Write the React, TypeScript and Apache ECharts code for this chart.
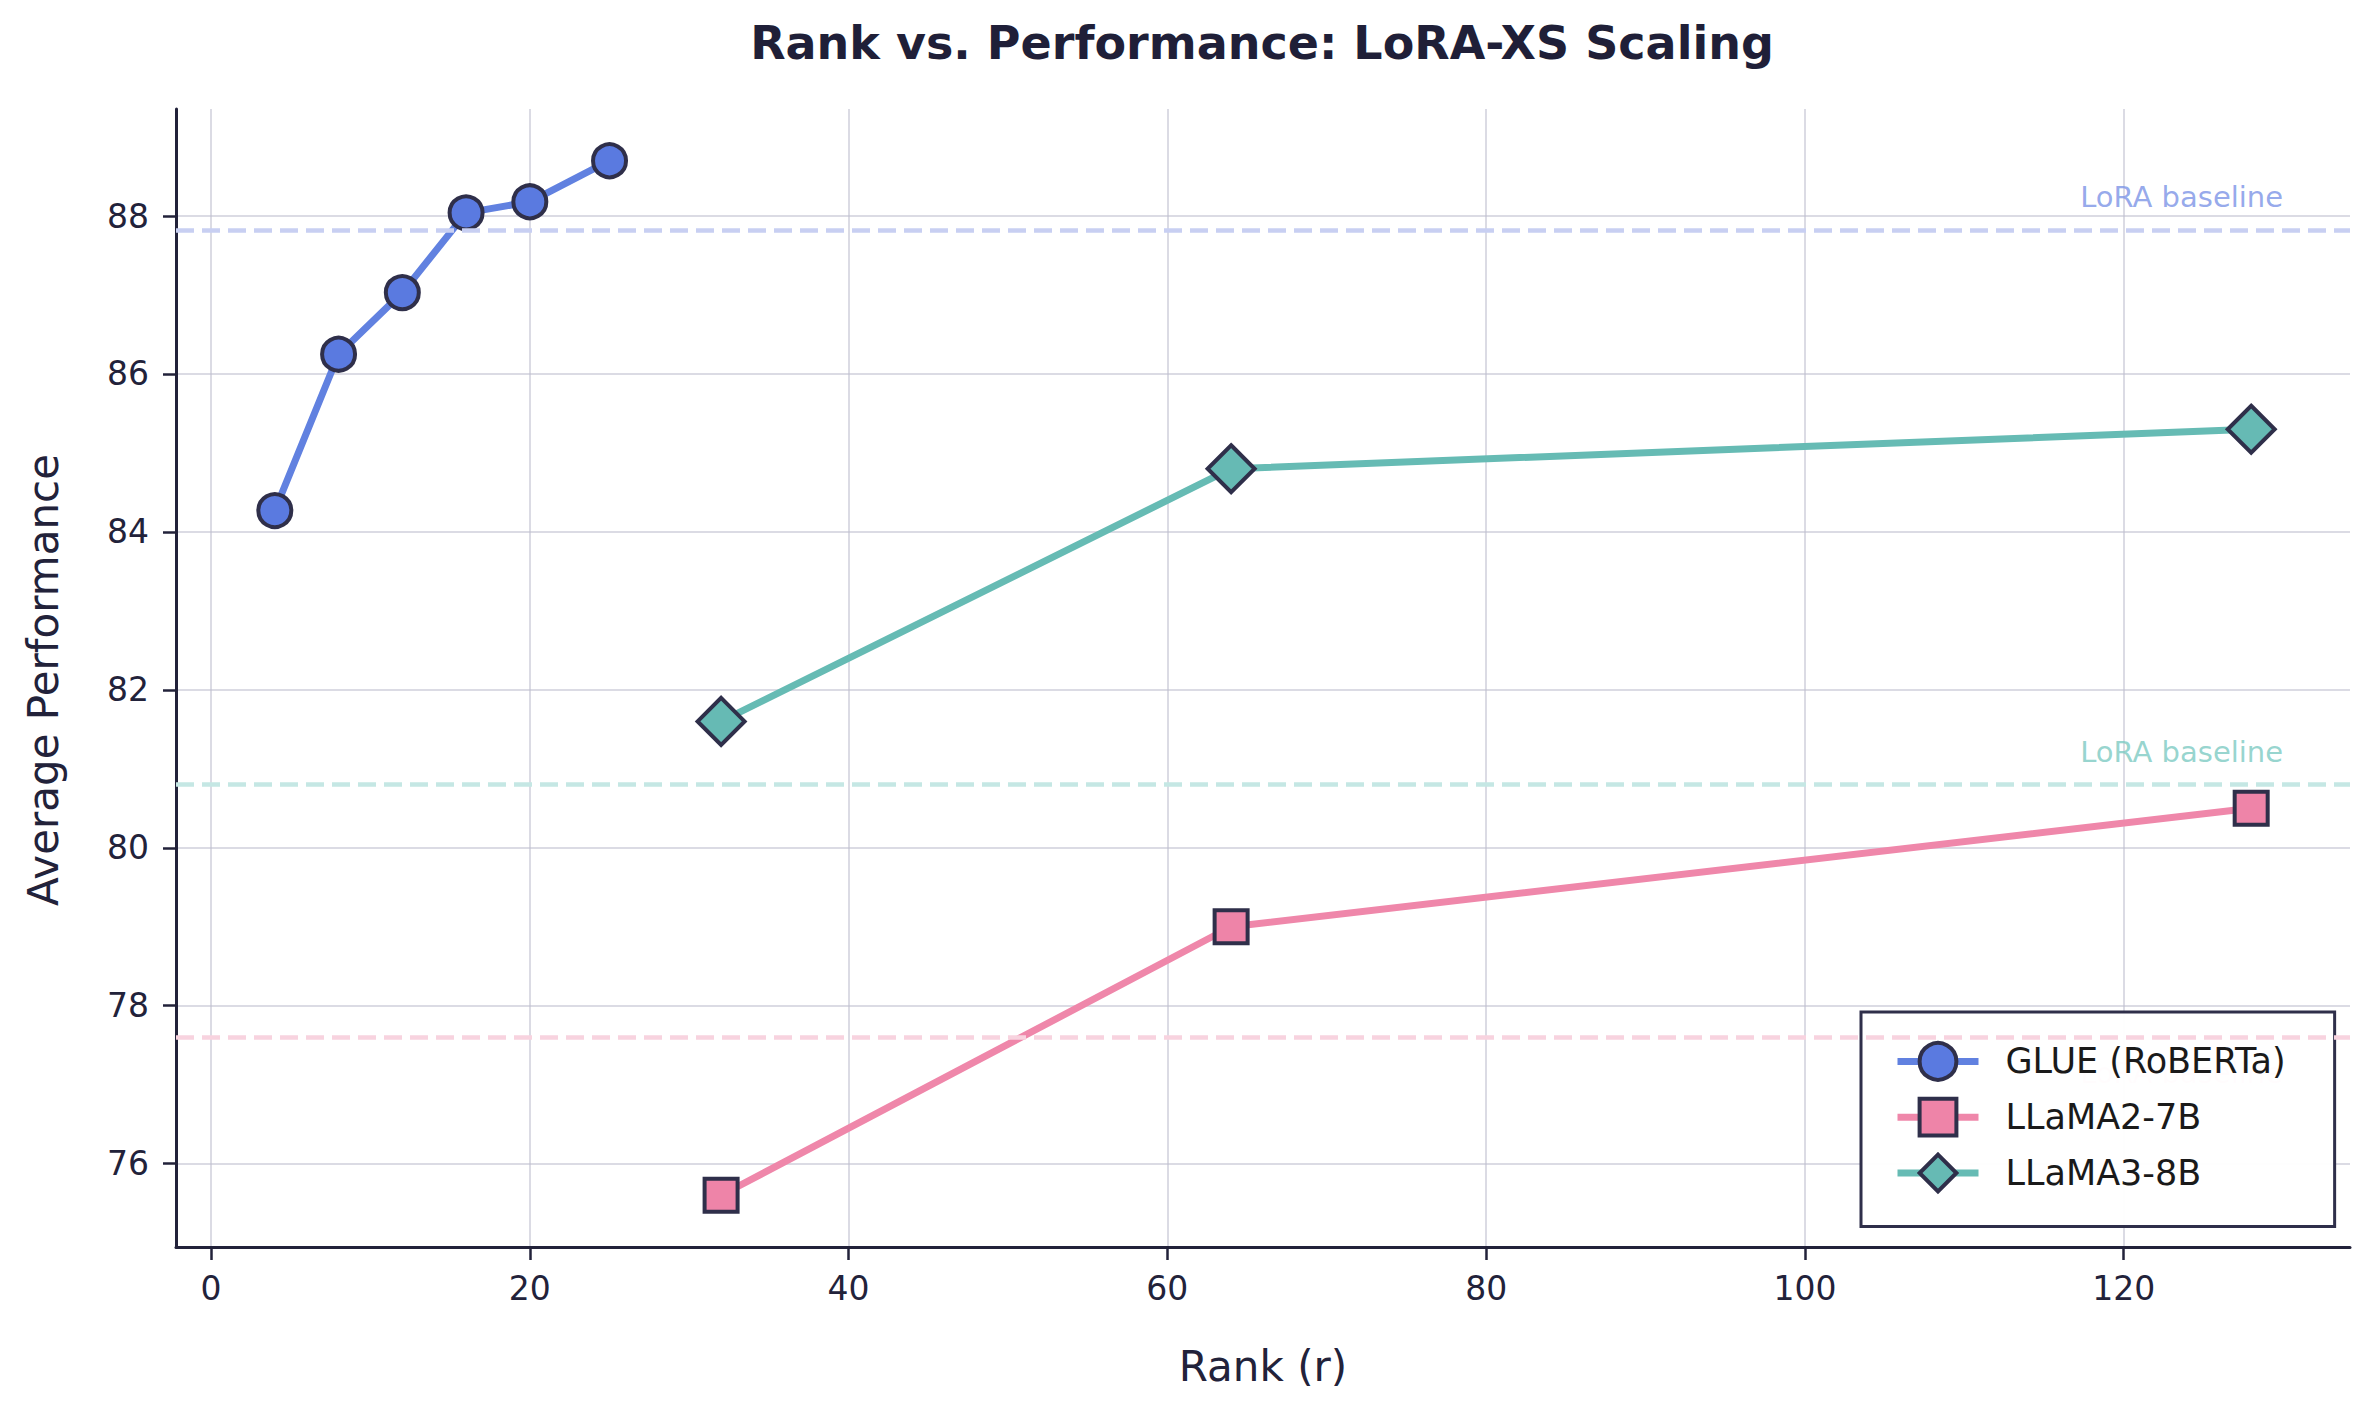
import React, { useEffect, useRef } from "react";
import * as echarts from "echarts";

// ---- data ----
const glueRanks = [4, 8, 12, 16, 20, 25];
const glueScores = [84.27, 86.25, 87.03, 88.04, 88.18, 88.7];
const llamaRanks = [32, 64, 128];
const llama2Scores = [75.6, 79.0, 80.5];
const llama3Scores = [81.6, 84.8, 85.3];
const seriesNames = ["GLUE (RoBERTa)", "LLaMA2-7B", "LLaMA3-8B"];
const baselineValues = [87.82, 77.6, 80.8];
const baselineLabelX = 130;
const xTicks = [0, 20, 40, 60, 80, 100, 120];
const yTicks = [76, 78, 80, 82, 84, 86, 88];

const FONT = "DejaVu Sans";
const TEXT = "#22223a";
const EDGE = "#2f2f4a";
const lineColors = ["#6181e0", "#ef87aa", "#66bbb4"];
const fillColors = ["#5a7ae0", "#ee84a8", "#66bab4"];
const baseColors = ["#c8cff2", "#f8d3df", "#c5e7e4"];
const baseTextColors = ["#7b93e6", "#f2a6c0", "#7ccac2"];
const labelPositions = ["top", "bottom", "top"];
const labelDistances = [18, 21, 18];
const symbols = ["circle", "rect", "diamond"];
const symbolSizes: any[] = [33, 33, [47, 47]];

export default function App() {
  const ref = useRef<HTMLDivElement>(null);
  useEffect(() => {
    document.body.style.margin = "0";
    document.body.style.overflow = "hidden";
    const chart = echarts.init(ref.current!, null, { renderer: "svg" });
    const dataSets = [
      glueRanks.map((r, i) => [r, glueScores[i]]),
      llamaRanks.map((r, i) => [r, llama2Scores[i]]),
      llamaRanks.map((r, i) => [r, llama3Scores[i]]),
    ];
    const baselineSeries = baselineValues.map((v, i) => ({
      type: "scatter",
      name: "baseline-" + i,
      z: 1,
      silent: true,
      symbolSize: 1,
      itemStyle: { color: "rgba(0,0,0,0)" },
      data: [[baselineLabelX, v]],
      label: {
        show: true,
        position: labelPositions[i],
        align: "right",
        distance: labelDistances[i],
        formatter: "LoRA baseline",
        color: baseTextColors[i],
        fontSize: 29,
        fontFamily: FONT,
      },
      markLine: {
        silent: true,
        symbol: "none",
        label: { show: false },
        lineStyle: { color: baseColors[i], type: [18, 8], width: 4.5 },
        data: [{ yAxis: v }],
      },
    }));
    const mainSeries = dataSets.map((d, i) => ({
      type: "line",
      name: seriesNames[i],
      z: 3,
      data: d,
      symbol: symbols[i],
      symbolSize: symbolSizes[i],
      showAllSymbol: true,
      lineStyle: { color: lineColors[i], width: 7 },
      itemStyle: { color: fillColors[i], borderColor: EDGE, borderWidth: 4 },
    }));
    chart.setOption({
      animation: false,
      textStyle: { fontFamily: FONT },
      grid: { left: 176, right: 14, top: 109, bottom: 155, containLabel: false },
      xAxis: {
        type: "value",
        min: -2.2,
        max: 134.2,
        axisLine: { show: true, onZero: false, lineStyle: { color: TEXT, width: 3 } },
        axisTick: { show: true, length: 13, customValues: xTicks, lineStyle: { color: TEXT, width: 2.5 } },
        axisLabel: { customValues: xTicks, fontSize: 33, color: TEXT, margin: 25, fontFamily: FONT },
        splitLine: { show: true, lineStyle: { color: "rgba(190,190,205,0.55)", width: 2 } },
      },
      yAxis: {
        type: "value",
        min: 74.945,
        max: 89.355,
        axisLine: { show: true, onZero: false, lineStyle: { color: TEXT, width: 3 } },
        axisTick: { show: true, length: 13, customValues: yTicks, lineStyle: { color: TEXT, width: 2.5 } },
        axisLabel: { customValues: yTicks, fontSize: 33, color: TEXT, margin: 27, fontFamily: FONT },
        splitLine: { show: true, lineStyle: { color: "rgba(190,190,205,0.55)", width: 2 } },
      },
      legend: {
        data: seriesNames,
        orient: "vertical",
        left: 1861,
        top: 1012,
        itemWidth: 81,
        itemHeight: 46,
        itemGap: 15,
        padding: [29, 49, 33, 33],
        backgroundColor: "rgba(255,255,255,0.96)",
        borderColor: EDGE,
        borderWidth: 3,
        borderRadius: 0,
        lineStyle: { width: 7 },
        itemStyle: { borderColor: EDGE, borderWidth: 4 },
        textStyle: { fontSize: 35, color: "#1a1a1a", fontFamily: FONT, padding: [0, 0, 0, 22] },
      },
      graphic: [
        {
          type: "text",
          x: 1262,
          y: 43,
          style: {
            text: "Rank vs. Performance: LoRA-XS Scaling",
            font: `bold 46px "${FONT}"`,
            fill: "#1f1f38",
            align: "center",
            verticalAlign: "middle",
          },
        },
        {
          type: "text",
          x: 1263,
          y: 1366,
          style: {
            text: "Rank (r)",
            font: `42px "${FONT}"`,
            fill: TEXT,
            align: "center",
            verticalAlign: "middle",
          },
        },
        {
          type: "text",
          x: 43,
          y: 680,
          rotation: Math.PI / 2,
          style: {
            text: "Average Performance",
            font: `42px "${FONT}"`,
            fill: TEXT,
            align: "center",
            verticalAlign: "middle",
          },
        },
      ],
      series: [...baselineSeries, ...mainSeries],
    });
    return () => chart.dispose();
  }, []);
  return <div ref={ref} style={{ width: 2364, height: 1402 }} />;
}
